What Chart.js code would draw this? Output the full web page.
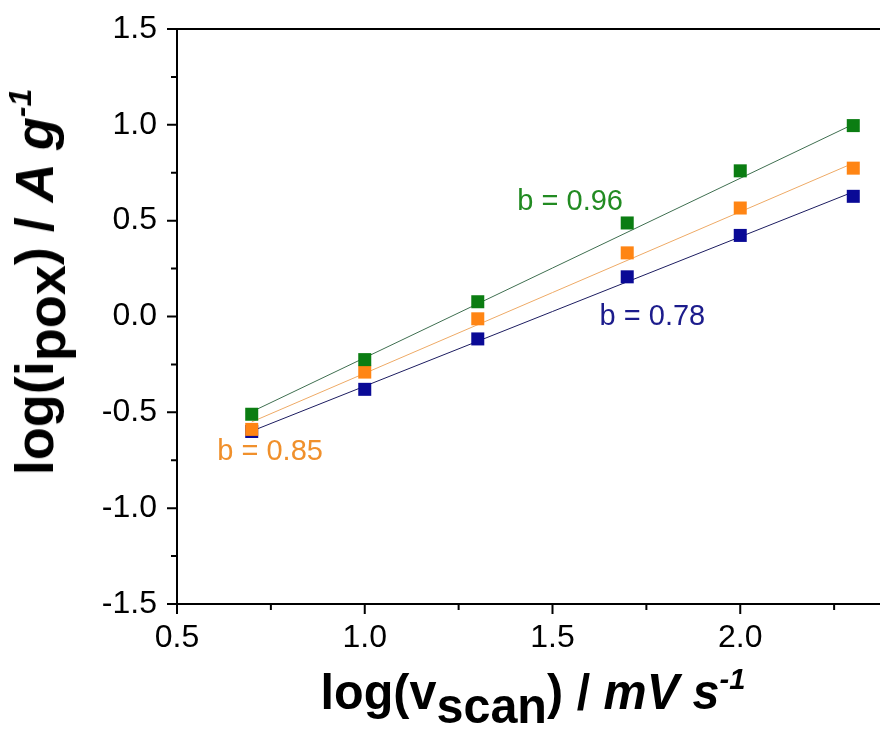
<!DOCTYPE html>
<html><head><meta charset="utf-8">
<script src="https://cdn.jsdelivr.net/npm/chart.js@4.4.1/dist/chart.umd.min.js"></script>
<style>
html,body{margin:0;padding:0;background:#fff;overflow:hidden;}
#wrap{position:relative;width:880px;height:731px;overflow:hidden;background:#fff;}
#box{position:absolute;left:0;top:0;width:960px;height:731px;}
.ttl{position:absolute;font-family:"Liberation Sans",Arial,sans-serif;font-weight:bold;color:#000;white-space:nowrap;line-height:1;}
.ttl .sb{position:relative;}
.ttl .sp{position:relative;font-style:italic;}
.ttl i{font-style:italic;}
#xt{font-size:50px;left:533px;top:667px;transform:translateX(-50%) scaleX(0.97);}
#xt .sb{top:14px;}
#xt .sp{top:-20px;font-size:30px;}
#yt{font-size:54px;left:34px;top:282px;transform:translate(-50%,-50%) rotate(-90deg);}
#yt .sb{top:12px;}
#yt .sp{top:-22px;font-size:32px;}
</style></head><body>
<div id="wrap">
<div id="box"><canvas id="c" width="960" height="731"></canvas></div>
<div id="xt" class="ttl">log(v<span class="sb">scan</span>) / <i>mV s</i><span class="sp">-1</span></div>
<div id="yt" class="ttl">log(i<span class="sb">pox</span>) / <i>A g</i><span class="sp">-1</span></div>
</div>
<script>
// log of scan rate (5, 10, 20, 50, 100, 200 mV/s)
const logScan = [0.699, 1.0, 1.301, 1.699, 2.0, 2.301];
const greenVals  = [-0.510, -0.225, 0.077, 0.488, 0.760, 0.996];
const orangeVals = [-0.589, -0.290, -0.012, 0.332, 0.566, 0.774];
const blueVals   = [-0.600, -0.380, -0.117, 0.207, 0.423, 0.627];
// fitted lines (endpoints)
const fitX = [0.699, 2.301];
const greenFit  = [-0.497, 1.003];
const orangeFit = [-0.550, 0.800];
const blueFit   = [-0.598, 0.650];
// slope labels
const labelText = ['b = 0.96', 'b = 0.78', 'b = 0.85'];
const labelX = [1.547, 1.766, 0.748];
const labelY = [0.596, -0.005, -0.706];
const labelColors = ['#228b22', '#1c1c8c', '#f0902c'];
// axes
const xTicks = [0.5, 1.0, 1.5, 2.0, 2.5];
const xMinor = [0.75, 1.25, 1.75, 2.25];
const yTicks = [-1.5, -1.0, -0.5, 0.0, 0.5, 1.0, 1.5];
const yMinor = [-1.25, -0.75, -0.25, 0.25, 0.75, 1.25];

const pts = (xs, ys) => xs.map((x, i) => ({x, y: ys[i]}));

const tickPlugin = {
  id: 'ticksAndLabels',
  afterDraw(chart) {
    const {ctx, chartArea: a, scales: {x, y}} = chart;
    ctx.save();
    ctx.strokeStyle = '#000';
    ctx.lineWidth = 2;
    ctx.beginPath();
    ctx.moveTo(a.left - 1, a.top); ctx.lineTo(a.right, a.top);
    ctx.moveTo(a.right, a.top); ctx.lineTo(a.right, a.bottom);
    yTicks.forEach(v => { const p = y.getPixelForValue(v); ctx.moveTo(a.left - 10, p); ctx.lineTo(a.left, p); });
    yMinor.forEach(v => { const p = y.getPixelForValue(v); ctx.moveTo(a.left - 6, p); ctx.lineTo(a.left, p); });
    xTicks.forEach(v => { const p = x.getPixelForValue(v); ctx.moveTo(p, a.bottom); ctx.lineTo(p, a.bottom + 10); });
    xMinor.forEach(v => { const p = x.getPixelForValue(v); ctx.moveTo(p, a.bottom); ctx.lineTo(p, a.bottom + 6); });
    ctx.stroke();
    ctx.font = '29px "Liberation Sans", Arial, sans-serif';
    ctx.textAlign = 'center';
    ctx.textBaseline = 'middle';
    labelText.forEach((t, i) => {
      ctx.fillStyle = labelColors[i];
      ctx.fillText(t, x.getPixelForValue(labelX[i]), y.getPixelForValue(labelY[i]));
    });
    ctx.restore();
  }
};

new Chart(document.getElementById('c'), {
  data: {
    datasets: [
      {type: 'scatter', data: pts(logScan, greenVals), backgroundColor: '#0b7d12', pointStyle: 'rect', pointRadius: 9.2, pointBorderWidth: 0, order: 1},
      {type: 'scatter', data: pts(logScan, orangeVals), backgroundColor: '#ff8514', pointStyle: 'rect', pointRadius: 9.2, pointBorderWidth: 0, order: 2},
      {type: 'scatter', data: pts(logScan, blueVals), backgroundColor: '#0a0a96', pointStyle: 'rect', pointRadius: 9.2, pointBorderWidth: 0, order: 3},
      {type: 'line', data: pts(fitX, greenFit), borderColor: '#3f6f50', borderWidth: 1, pointRadius: 0, order: 10},
      {type: 'line', data: pts(fitX, orangeFit), borderColor: '#eeaa66', borderWidth: 1, pointRadius: 0, order: 11},
      {type: 'line', data: pts(fitX, blueFit), borderColor: '#1c1c60', borderWidth: 1, pointRadius: 0, order: 12}
    ]
  },
  options: {
    responsive: false,
    animation: false,
    devicePixelRatio: 1,
    layout: {padding: {top: 29, right: 32, left: 0, bottom: 0}},
    plugins: {legend: {display: false}, tooltip: {enabled: false}},
    scales: {
      x: {
        type: 'linear', position: 'bottom', min: 0.5, max: 2.5,
        afterBuildTicks: s => { s.ticks = xTicks.map(v => ({value: v})); },
        afterFit: s => { s.height = 127; s.paddingLeft = 0; s.paddingRight = 0; s.paddingTop = 0; s.paddingBottom = 0; },
        grid: {display: false, drawTicks: false},
        border: {display: true, color: '#000', width: 2},
        ticks: {color: '#000', padding: 15, font: {family: '"Liberation Sans", Arial, sans-serif', size: 32}, callback: v => v.toFixed(1), maxRotation: 0}
      },
      y: {
        type: 'linear', position: 'left', min: -1.5, max: 1.5,
        afterBuildTicks: s => { s.ticks = yTicks.map(v => ({value: v})); },
        afterFit: s => { s.width = 177; s.paddingTop = 0; s.paddingBottom = 0; s.paddingLeft = 0; s.paddingRight = 0; },
        grid: {display: false, drawTicks: false},
        border: {display: true, color: '#000', width: 2},
        ticks: {color: '#000', padding: 20, font: {family: '"Liberation Sans", Arial, sans-serif', size: 32}, callback: v => v.toFixed(1)}
      }
    }
  },
  plugins: [tickPlugin]
});
</script>
</body></html>
